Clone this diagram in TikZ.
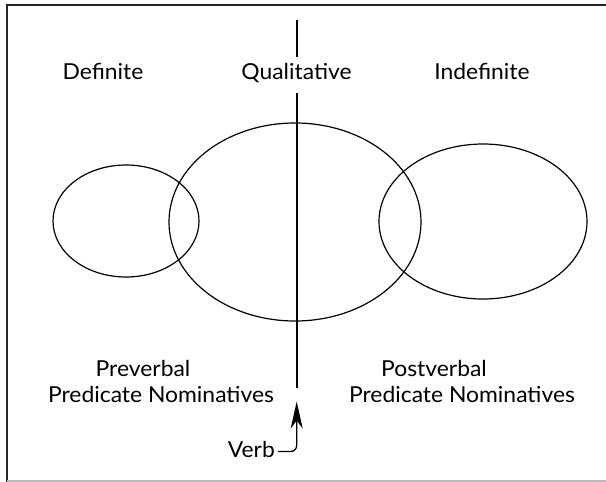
\documentclass[tikz,border=0pt]{standalone}
\usepackage{fontspec}
\setmainfont{Lato}[FakeStretch=1.04]
\usetikzlibrary{shapes.geometric,arrows.meta}
\begin{document}
\begin{tikzpicture}[x=1pt,y=-1pt,
  lbl/.style={font=\fontsize{22}{26}\selectfont, inner sep=0pt, anchor=base},
  ell/.style={draw, ellipse, inner sep=0pt, line width=1.2pt},
  axis/.style={line width=2pt},
  verbarrow/.style={line width=1.3pt, rounded corners=6pt, -{Stealth[length=27pt,width=12pt,inset=8pt]}}]
\useasboundingbox (0,0) rectangle (606,482);
% frame
\draw[line width=2pt, black!85] (6.5,482) -- (6.5,4.5) -- (606,4.5);
\draw[line width=1.5pt, gray!55] (6.5,481) -- (606,481);
% ellipses
\node[ell, minimum width=146pt, minimum height=112pt] (def) at (126,221) {};
\node[ell, minimum width=252pt, minimum height=198pt] (qualell) at (295,222) {};
\node[ell, minimum width=208pt, minimum height=155pt] (indef) at (483,221.5) {};
% labels
\node[lbl] (tdef) at (103,79) {Definite};
\node[lbl] (tqual) at (296.5,79) {Qualitative};
\node[lbl] (tindef) at (482,79) {Indefinite};
\node[lbl] (pre1) at (143,376) {Preverbal};
\node[lbl] (pre2) at (161,402) {Predicate Nominatives};
\node[lbl] (post1) at (434,376) {Postverbal};
\node[lbl] (post2) at (462,402) {Predicate Nominatives};
\node[lbl, anchor=base east] (verb) at (275,457) {Verb};
% axis
\coordinate (axtop) at (296.7,20);
\coordinate (axa) at (296.7,57);
\coordinate (axb) at (296.7,93);
\coordinate (axbot) at (296.7,388);
\draw[axis] (axtop) -- (axa);
\draw[axis] (axb) -- (axbot);
% verb arrow
\coordinate (vstart) at (278,451.5);
\coordinate (vtip) at (296.7,401.5);
\draw[verbarrow] (vstart) -| (vtip);
\end{tikzpicture}
\end{document}
